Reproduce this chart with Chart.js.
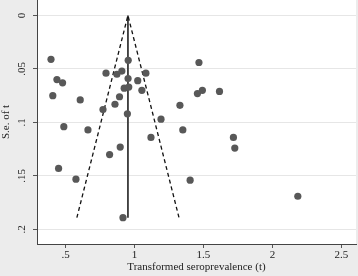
<!DOCTYPE html>
<html lang="en">
<head>
<meta charset="UTF-8" />
<title>Funnel plot</title>
<script src="https://cdn.jsdelivr.net/npm/chart.js@4"></script>
<style>
  * { margin: 0; padding: 0; box-sizing: border-box; }
  body { background: #ececec; }
  .wrap { width: 358px; height: 276px; }
</style>
</head>
<body>
<div class="wrap"><canvas id="funnel"></canvas></div>
<script>
// study estimates (transformed seroprevalence) and their standard errors
const tValues = [0.394, 0.437, 0.478, 0.407, 0.606, 0.487, 0.662, 0.793, 0.872, 0.908,
  0.954, 0.953, 1.023, 1.082, 0.925, 0.958, 1.053, 0.891, 0.858, 0.771,
  0.948, 1.192, 1.350, 1.329, 1.467, 1.456, 1.492, 1.616, 1.119, 1.717,
  1.727, 1.403, 2.184, 0.896, 0.819, 0.449, 0.575, 0.916];
const seValues = [0.041, 0.060, 0.063, 0.075, 0.079, 0.104, 0.107, 0.054, 0.055, 0.052,
  0.042, 0.059, 0.061, 0.054, 0.068, 0.067, 0.070, 0.076, 0.083, 0.088,
  0.092, 0.097, 0.107, 0.084, 0.044, 0.073, 0.070, 0.071, 0.114, 0.114,
  0.124, 0.154, 0.169, 0.123, 0.130, 0.143, 0.153, 0.189];
const pooled = 0.952;
const seMax = 0.189;
const xTicks = [0.5, 1, 1.5, 2, 2.5];
const xTickLabels = [".5", "1", "1.5", "2", "2.5"];
const yTicks = [0, 0.05, 0.1, 0.15, 0.2];
const yTickLabels = ["0", ".05", ".1", ".15", ".2"];

const points = tValues.map((t, i) => ({ x: t, y: seValues[i] }));
const half = 1.96 * seMax;

const bgPlugin = {
  id: "bgPlugin",
  beforeDraw(chart) {
    const { ctx, chartArea: a } = chart;
    ctx.save();
    ctx.fillStyle = "#ececec";
    ctx.fillRect(0, 0, chart.width, chart.height);
    ctx.fillStyle = "#ffffff";
    ctx.fillRect(a.left, 0, a.right - a.left, a.bottom);
    ctx.restore();
  }
};

const serif = "'Liberation Serif', 'DejaVu Serif', serif";

new Chart(document.getElementById("funnel"), {
  type: "scatter",
  data: {
    datasets: [
      {
        data: points,
        backgroundColor: "#585858",
        borderWidth: 0,
        pointRadius: 3.6,
        order: 0
      },
      {
        type: "line",
        data: [{ x: pooled - half, y: seMax }, { x: pooled, y: 0 }, { x: pooled + half, y: seMax }],
        borderColor: "#111111",
        borderWidth: 1.3,
        borderDash: [4, 3],
        pointRadius: 0,
        fill: false,
        order: 1
      },
      {
        type: "line",
        data: [{ x: pooled, y: 0 }, { x: pooled, y: seMax }],
        borderColor: "#3a3a3a",
        borderWidth: 1.8,
        pointRadius: 0,
        fill: false,
        order: 1
      }
    ]
  },
  options: {
    responsive: true,
    maintainAspectRatio: false,
    animation: false,
    layout: { autoPadding: false, padding: { top: 0, right: 2, left: 0, bottom: 0 } },
    plugins: { legend: { display: false }, tooltip: { enabled: false } },
    scales: {
      x: {
        type: "linear",
        min: 0.2925,
        max: 2.606,
        afterBuildTicks(s) { s.ticks = xTicks.map(v => ({ value: v })); },
        afterFit(s) { s.height = 32; s.paddingLeft = 0; s.paddingRight = 0; },
        ticks: {
          font: { family: serif, size: 11 },
          color: "#222",
          padding: 1,
          callback: (v) => xTickLabels[xTicks.indexOf(v)]
        },
        grid: { display: true, drawOnChartArea: false, color: "#555", tickLength: 4, tickColor: "#555" },
        border: { color: "#444", width: 1 },
        title: {
          display: true,
          text: "Transformed seroprevalence (t)",
          font: { family: serif, size: 11 },
          color: "#222",
          padding: { top: 0, bottom: 2 }
        }
      },
      y: {
        type: "linear",
        reverse: true,
        min: -0.0144,
        max: 0.2136,
        afterBuildTicks(s) { s.ticks = yTicks.map(v => ({ value: v })); },
        afterFit(s) { s.width = 37; s.paddingTop = 0; s.paddingBottom = 0; },
        ticks: {
          font: { family: serif, size: 11 },
          color: "#222",
          minRotation: 90,
          maxRotation: 90,
          crossAlign: "center",
          padding: 4,
          callback: (v) => yTickLabels[yTicks.indexOf(v)]
        },
        grid: { color: "#e6e6e6", lineWidth: 1, tickLength: 4, tickColor: "#555" },
        border: { color: "#444", width: 1 },
        title: {
          display: true,
          text: "S.e. of t",
          font: { family: serif, size: 11 },
          color: "#222",
          padding: { top: 0, bottom: 0 }
        }
      }
    }
  },
  plugins: [bgPlugin]
});
</script>
</body>
</html>
